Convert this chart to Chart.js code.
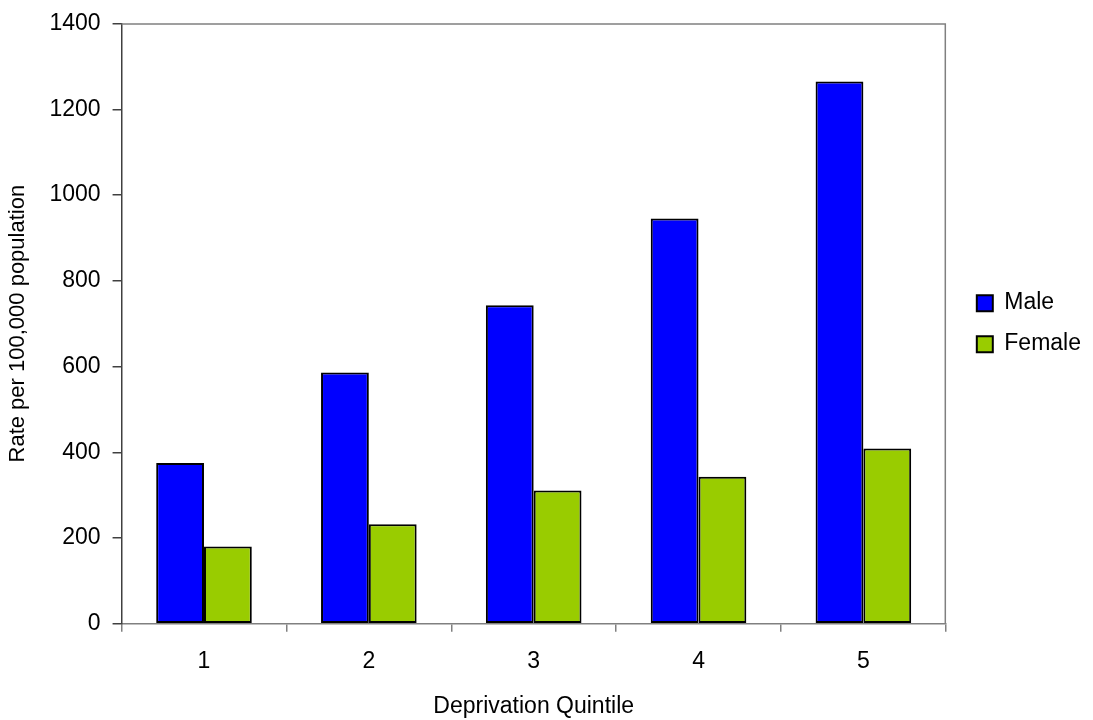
<!DOCTYPE html>
<html>
<head>
<meta charset="utf-8">
<script src="https://cdn.jsdelivr.net/npm/chart.js@4"></script>
<style>
  html, body { margin: 0; padding: 0; background: #fff; }
  #wrap { width: 1093px; height: 720px; }
</style>
</head>
<body>
<div id="wrap"><canvas id="chart"></canvas></div>
<script>
const quintiles = ['1', '2', '3', '4', '5'];
const maleRates = [375, 586, 743, 945, 1265];
const femaleRates = [180, 232, 311, 343, 409];

const FONT = 'Liberation Sans, Arial, sans-serif';

// grey frame on the top and right of the plot, like the old Excel chart
const frame = {
    id: 'frame',
    beforeDatasetsDraw(chart) {
        const { ctx, chartArea: a } = chart;
        ctx.save();
        ctx.strokeStyle = '#808080';
        ctx.lineWidth = 1.5;
        ctx.beginPath();
        ctx.moveTo(a.left, a.top + 0.5);
        ctx.lineTo(a.right - 0.5, a.top + 0.5);
        ctx.lineTo(a.right - 0.5, a.bottom);
        ctx.stroke();
        ctx.restore();
    }
};

new Chart(document.getElementById('chart'), {
    type: 'bar',
    data: {
        labels: quintiles,
        datasets: [{
            label: 'Male',
            data: maleRates,
            backgroundColor: '#0000FF',
            borderColor: '#000000',
            borderWidth: 2,
            borderSkipped: false
        }, {
            label: 'Female',
            data: femaleRates,
            backgroundColor: '#99CC00',
            borderColor: '#000000',
            borderWidth: 2,
            borderSkipped: false
        }]
    },
    options: {
        responsive: true,
        maintainAspectRatio: false,
        animation: false,
        devicePixelRatio: 1,
        layout: { padding: { top: 7, left: 0, right: 2, bottom: 0 } },
        datasets: {
            bar: { categoryPercentage: 0.58, barPercentage: 1.0 }
        },
        plugins: {
            tooltip: { enabled: false },
            legend: {
                position: 'right',
                align: 'center',
                fullSize: false,
                labels: {
                    color: '#000',
                    font: { family: FONT, size: 23 },
                    boxWidth: 16,
                    boxHeight: 16,
                    padding: 18
                }
            }
        },
        scales: {
            x: {
                grid: {
                    offset: true,
                    drawOnChartArea: false,
                    tickLength: 8,
                    color: '#808080',
                    lineWidth: 1.5
                },
                border: { color: '#808080', width: 1.5 },
                ticks: {
                    color: '#000',
                    font: { family: FONT, size: 23 },
                    padding: 16
                },
                title: {
                    display: true,
                    text: 'Deprivation Quintile',
                    color: '#000',
                    font: { family: FONT, size: 23 },
                    padding: { top: 1, bottom: 0 }
                }
            },
            y: {
                min: 0,
                max: 1400,
                ticks: {
                    stepSize: 200,
                    color: '#000',
                    font: { family: FONT, size: 23, lineHeight: 1 },
                    padding: 12,
                    callback: v => String(v)
                },
                grid: {
                    drawOnChartArea: false,
                    tickLength: 9,
                    color: '#404040',
                    lineWidth: 1.5
                },
                border: { color: '#404040', width: 1.5 },
                title: {
                    display: true,
                    text: 'Rate per 100,000 population',
                    color: '#000',
                    font: { family: FONT, size: 22 },
                    padding: { top: 5, bottom: 6 }
                }
            },
            // empty spacer between the plot and the legend
            gap: {
                position: 'right',
                display: true,
                ticks: { display: false },
                grid: { display: false },
                border: { display: false },
                afterFit(scale) { scale.width = 13; }
            }
        }
    },
    plugins: [frame]
});
</script>
</body>
</html>
